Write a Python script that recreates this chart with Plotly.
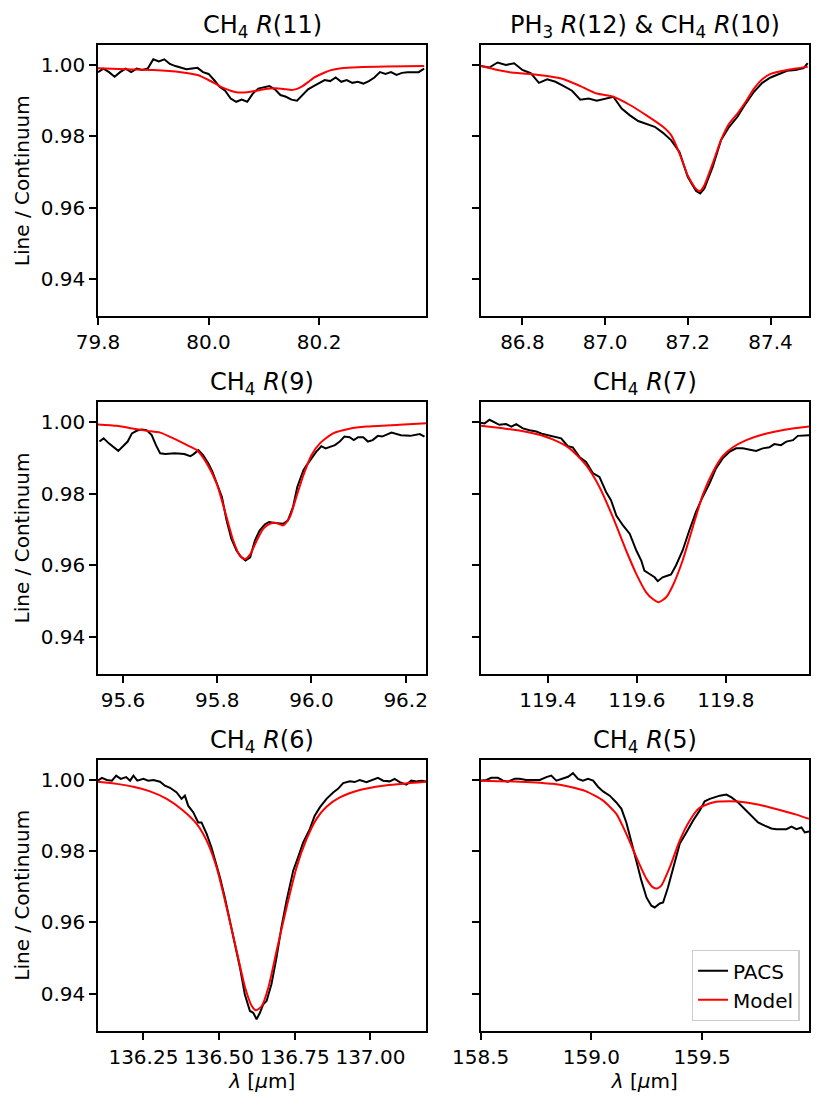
from plotly.subplots import make_subplots
import plotly.graph_objs as go

FONT = dict(family="DejaVu Sans", size=20, color="black")
TITLE_FONT = dict(family="DejaVu Sans", size=24, color="black")
PACS_LINE = dict(color="black", width=2)
MODEL_LINE = dict(color="red", width=2, shape="spline", smoothing=0.6)

TITLES = [
    "CH<sub>4</sub> <i>R</i>(11)",
    "PH<sub>3</sub> <i>R</i>(12) &amp; CH<sub>4</sub> <i>R</i>(10)",
    "CH<sub>4</sub> <i>R</i>(9)",
    "CH<sub>4</sub> <i>R</i>(7)",
    "CH<sub>4</sub> <i>R</i>(6)",
    "CH<sub>4</sub> <i>R</i>(5)",
]

# CH4 R(11)
R11_WAVE = [79.80, 79.81, 79.82, 79.83, 79.84, 79.85, 79.86, 79.87, 79.88, 79.89,
            79.90, 79.91, 79.92, 79.93, 79.94, 79.95, 79.96, 79.97, 79.98, 79.99,
            80.00, 80.01, 80.02, 80.03, 80.04, 80.05, 80.06, 80.07, 80.08, 80.09,
            80.10, 80.11, 80.12, 80.13, 80.14, 80.15, 80.16, 80.17, 80.18, 80.19,
            80.20, 80.21, 80.22, 80.23, 80.24, 80.25, 80.26, 80.27, 80.28, 80.29,
            80.30, 80.31, 80.32, 80.33, 80.34, 80.35, 80.36, 80.37, 80.38, 80.39]
R11_PACS = [0.9980, 0.9990, 0.9980, 0.9967, 0.9980, 0.9990, 0.9980, 0.9990, 0.9986, 0.9990,
            1.0016, 1.0010, 1.0016, 1.0003, 0.9997, 0.9992, 0.9988, 0.9990, 0.9992, 0.9980,
            0.9975, 0.9958, 0.9939, 0.9928, 0.9906, 0.9897, 0.9903, 0.9897, 0.9920, 0.9934,
            0.9937, 0.9941, 0.9932, 0.9916, 0.9911, 0.9903, 0.9900, 0.9916, 0.9932, 0.9941,
            0.9950, 0.9958, 0.9955, 0.9965, 0.9953, 0.9958, 0.9950, 0.9953, 0.9948, 0.9955,
            0.9965, 0.9980, 0.9975, 0.9980, 0.9972, 0.9978, 0.9980, 0.9980, 0.9980, 0.9990]
R11_MODEL_WAVE = [79.80, 79.85, 79.90, 79.95, 79.98, 80.00, 80.02, 80.03, 80.04, 80.05,
                  80.07, 80.09, 80.10, 80.12, 80.14, 80.15, 80.16, 80.17, 80.18, 80.19,
                  80.20, 80.21, 80.22, 80.24, 80.27, 80.32, 80.39]
R11_MODEL = [0.9991, 0.9988, 0.9986, 0.9980, 0.9972, 0.9958, 0.9941, 0.9934, 0.9928, 0.9924,
             0.9924, 0.9929, 0.9932, 0.9935, 0.9932, 0.9930, 0.9933, 0.9941, 0.9952, 0.9964,
             0.9972, 0.9979, 0.9985, 0.9991, 0.9994, 0.9996, 0.9997]

# PH3 R(12) & CH4 R(10)
R10_WAVE = [86.70, 86.72, 86.74, 86.76, 86.78, 86.80, 86.82, 86.84, 86.86, 86.88,
            86.90, 86.92, 86.94, 86.96, 86.98, 87.00, 87.02, 87.04, 87.06, 87.08,
            87.10, 87.12, 87.14, 87.16, 87.18, 87.20, 87.22, 87.23, 87.24, 87.26,
            87.28, 87.30, 87.32, 87.34, 87.36, 87.38, 87.40, 87.42, 87.44, 87.46,
            87.48, 87.49]
R10_PACS = [0.9997, 0.9993, 1.0007, 1.0000, 1.0005, 0.9986, 0.9977, 0.9950, 0.9960, 0.9953,
            0.9941, 0.9928, 0.9903, 0.9906, 0.9900, 0.9906, 0.9911, 0.9878, 0.9859, 0.9843,
            0.9834, 0.9827, 0.9810, 0.9789, 0.9756, 0.9686, 0.9647, 0.9640, 0.9654, 0.9714,
            0.9789, 0.9827, 0.9855, 0.9892, 0.9925, 0.9950, 0.9965, 0.9975, 0.9984, 0.9986,
            0.9991, 1.0005]
R10_MODEL_WAVE = [86.700, 86.740, 86.780, 86.820, 86.860, 86.900, 86.940, 86.980, 87.020, 87.060,
                  87.100, 87.140, 87.160, 87.180, 87.200, 87.220, 87.230, 87.240, 87.260, 87.280,
                  87.300, 87.320, 87.340, 87.360, 87.380, 87.400, 87.440, 87.490]
R10_MODEL = [0.9997, 0.9986, 0.9978, 0.9975, 0.9969, 0.9960, 0.9941, 0.9920, 0.9911, 0.9888,
             0.9859, 0.9827, 0.9803, 0.9752, 0.9690, 0.9653, 0.9647, 0.9663, 0.9724, 0.9789,
             0.9836, 0.9864, 0.9897, 0.9934, 0.9960, 0.9975, 0.9986, 0.9995]

# CH4 R(9)
R9_WAVE = [95.550, 95.559, 95.570, 95.590, 95.610, 95.619, 95.630, 95.640, 95.650, 95.661,
           95.670, 95.679, 95.690, 95.710, 95.730, 95.743, 95.750, 95.760, 95.770, 95.781,
           95.790, 95.799, 95.810, 95.820, 95.830, 95.841, 95.850, 95.860, 95.870, 95.880,
           95.890, 95.901, 95.910, 95.923, 95.930, 95.940, 95.950, 95.961, 95.970, 95.983,
           95.990, 96.000, 96.010, 96.021, 96.030, 96.050, 96.060, 96.070, 96.081, 96.090,
           96.099, 96.110, 96.120, 96.130, 96.141, 96.150, 96.170, 96.190, 96.210, 96.230,
           96.240]
R9_PACS = [0.9946, 0.9955, 0.9941, 0.9920, 0.9946, 0.9969, 0.9977, 0.9980, 0.9978, 0.9964,
           0.9936, 0.9913, 0.9911, 0.9913, 0.9911, 0.9905, 0.9911, 0.9922, 0.9908, 0.9885,
           0.9861, 0.9828, 0.9791, 0.9725, 0.9674, 0.9641, 0.9624, 0.9613, 0.9622, 0.9669,
           0.9697, 0.9714, 0.9721, 0.9718, 0.9718, 0.9716, 0.9725, 0.9763, 0.9819, 0.9866,
           0.9880, 0.9899, 0.9917, 0.9933, 0.9927, 0.9936, 0.9946, 0.9960, 0.9958, 0.9950,
           0.9958, 0.9958, 0.9946, 0.9950, 0.9962, 0.9960, 0.9971, 0.9964, 0.9962, 0.9967,
           0.9960]
R9_MODEL_WAVE = [95.547, 95.587, 95.623, 95.651, 95.679, 95.707, 95.736, 95.757, 95.778, 95.799,
                 95.820, 95.834, 95.848, 95.859, 95.870, 95.884, 95.898, 95.912, 95.926, 95.940,
                 95.954, 95.968, 95.983, 96.000, 96.018, 96.046, 96.081, 96.117, 96.187, 96.244]
R9_MODEL = [0.9994, 0.9990, 0.9982, 0.9976, 0.9971, 0.9955, 0.9936, 0.9922, 0.9885, 0.9828,
            0.9734, 0.9669, 0.9627, 0.9617, 0.9630, 0.9669, 0.9702, 0.9716, 0.9718, 0.9711,
            0.9734, 0.9791, 0.9852, 0.9908, 0.9941, 0.9969, 0.9982, 0.9988, 0.9993, 0.9997]

# CH4 R(7)
R7_WAVE = [119.249, 119.258, 119.269, 119.280, 119.291, 119.306, 119.318, 119.329, 119.344, 119.359,
           119.374, 119.389, 119.404, 119.419, 119.430, 119.445, 119.456, 119.471, 119.486, 119.501,
           119.516, 119.531, 119.542, 119.554, 119.569, 119.584, 119.599, 119.610, 119.617, 119.628,
           119.640, 119.647, 119.658, 119.670, 119.677, 119.688, 119.703, 119.718, 119.733, 119.748,
           119.763, 119.778, 119.793, 119.808, 119.823, 119.838, 119.853, 119.868, 119.883, 119.898,
           119.909, 119.924, 119.936, 119.951, 119.962, 119.973, 119.987]
R7_PACS = [0.9999, 0.9997, 1.0007, 0.9999, 0.9993, 0.9995, 0.9988, 0.9995, 0.9983, 0.9978,
           0.9974, 0.9967, 0.9962, 0.9958, 0.9955, 0.9933, 0.9930, 0.9903, 0.9889, 0.9858,
           0.9847, 0.9805, 0.9782, 0.9739, 0.9711, 0.9688, 0.9641, 0.9613, 0.9585, 0.9576,
           0.9566, 0.9555, 0.9566, 0.9571, 0.9574, 0.9599, 0.9641, 0.9697, 0.9749, 0.9791,
           0.9828, 0.9871, 0.9899, 0.9917, 0.9927, 0.9927, 0.9924, 0.9920, 0.9927, 0.9930,
           0.9939, 0.9936, 0.9946, 0.9950, 0.9962, 0.9962, 0.9964]
R7_MODEL_WAVE = [119.249, 119.299, 119.336, 119.374, 119.411, 119.449, 119.486, 119.516, 119.546, 119.576,
                 119.599, 119.621, 119.636, 119.649, 119.666, 119.681, 119.703, 119.726, 119.748, 119.771,
                 119.793, 119.816, 119.846, 119.883, 119.936, 119.987]
R7_MODEL = [0.9990, 0.9983, 0.9977, 0.9967, 0.9952, 0.9927, 0.9880, 0.9819, 0.9735, 0.9641,
            0.9575, 0.9524, 0.9505, 0.9496, 0.9510, 0.9543, 0.9613, 0.9707, 0.9796, 0.9861,
            0.9905, 0.9930, 0.9950, 0.9966, 0.9980, 0.9988]

# CH4 R(6)
R6_WAVE = [136.099, 136.113, 136.129, 136.146, 136.160, 136.175, 136.193, 136.206, 136.217, 136.230,
           136.250, 136.266, 136.283, 136.305, 136.321, 136.338, 136.360, 136.376, 136.387, 136.398,
           136.415, 136.431, 136.442, 136.459, 136.475, 136.492, 136.503, 136.519, 136.536, 136.552,
           136.569, 136.585, 136.602, 136.613, 136.624, 136.635, 136.646, 136.657, 136.673, 136.690,
           136.706, 136.723, 136.745, 136.761, 136.778, 136.800, 136.816, 136.833, 136.855, 136.877,
           136.893, 136.910, 136.932, 136.948, 136.965, 136.987, 137.009, 137.025, 137.042, 137.064,
           137.080, 137.097, 137.119, 137.135, 137.152, 137.168, 137.185]
R6_PACS = [0.9997, 1.0005, 0.9999, 0.9997, 1.0011, 1.0002, 1.0007, 0.9997, 1.0011, 0.9997,
           1.0002, 0.9997, 0.9999, 0.9994, 0.9983, 0.9977, 0.9964, 0.9946, 0.9955, 0.9927,
           0.9908, 0.9880, 0.9880, 0.9848, 0.9810, 0.9763, 0.9726, 0.9670, 0.9604, 0.9539,
           0.9474, 0.9399, 0.9352, 0.9347, 0.9329, 0.9347, 0.9371, 0.9380, 0.9427, 0.9502,
           0.9586, 0.9661, 0.9745, 0.9782, 0.9824, 0.9862, 0.9899, 0.9922, 0.9946, 0.9964,
           0.9974, 0.9990, 0.9995, 0.9993, 0.9999, 0.9993, 0.9999, 1.0005, 0.9997, 0.9995,
           1.0002, 0.9993, 0.9986, 0.9997, 0.9995, 0.9997, 0.9995]
R6_MODEL_WAVE = [136.099, 136.162, 136.217, 136.272, 136.327, 136.382, 136.426, 136.459, 136.492, 136.525,
                 136.558, 136.586, 136.608, 136.622, 136.641, 136.663, 136.690, 136.723, 136.756, 136.789,
                 136.822, 136.855, 136.899, 136.965, 137.042, 137.185]
R6_MODEL = [0.9994, 0.9988, 0.9980, 0.9967, 0.9946, 0.9913, 0.9876, 0.9829, 0.9754, 0.9642,
            0.9520, 0.9418, 0.9366, 0.9354, 0.9366, 0.9418, 0.9520, 0.9642, 0.9754, 0.9833,
            0.9890, 0.9924, 0.9950, 0.9971, 0.9983, 0.9994]

# CH4 R(5)
R5_WAVE = [158.500, 158.526, 158.548, 158.578, 158.601, 158.623, 158.654, 158.676, 158.706, 158.736,
           158.767, 158.797, 158.819, 158.842, 158.872, 158.895, 158.917, 158.940, 158.962, 158.985,
           159.008, 159.030, 159.053, 159.083, 159.113, 159.136, 159.158, 159.181, 159.203, 159.226,
           159.249, 159.271, 159.286, 159.309, 159.324, 159.346, 159.369, 159.399, 159.429, 159.459,
           159.489, 159.512, 159.535, 159.557, 159.580, 159.610, 159.633, 159.663, 159.693, 159.723,
           159.753, 159.783, 159.813, 159.836, 159.858, 159.881, 159.904, 159.926, 159.949, 159.964,
           159.983]
R5_PACS = [0.9997, 0.9999, 1.0005, 1.0005, 0.9997, 0.9994, 1.0002, 1.0002, 0.9999, 1.0000,
           0.9999, 1.0007, 1.0011, 0.9997, 1.0002, 1.0008, 1.0018, 1.0002, 0.9997, 1.0002,
           0.9997, 0.9980, 0.9967, 0.9955, 0.9936, 0.9918, 0.9880, 0.9829, 0.9773, 0.9717,
           0.9670, 0.9647, 0.9642, 0.9653, 0.9656, 0.9698, 0.9754, 0.9820, 0.9852, 0.9885,
           0.9913, 0.9939, 0.9946, 0.9950, 0.9955, 0.9958, 0.9950, 0.9936, 0.9918, 0.9899,
           0.9880, 0.9871, 0.9863, 0.9861, 0.9861, 0.9861, 0.9868, 0.9861, 0.9866, 0.9852,
           0.9855]
R5_MODEL_WAVE = [158.500, 158.676, 158.827, 158.902, 158.977, 159.053, 159.113, 159.158, 159.203, 159.249,
                 159.279, 159.297, 159.316, 159.354, 159.399, 159.444, 159.489, 159.550, 159.625, 159.700,
                 159.776, 159.851, 159.926, 159.983]
R5_MODEL = [0.9997, 0.9994, 0.9988, 0.9980, 0.9967, 0.9941, 0.9904, 0.9848, 0.9783, 0.9722,
            0.9698, 0.9695, 0.9703, 0.9754, 0.9829, 0.9885, 0.9921, 0.9936, 0.9939, 0.9936,
            0.9927, 0.9915, 0.9902, 0.9890]

PANELS = [
    (R11_WAVE, R11_PACS, R11_MODEL_WAVE, R11_MODEL),
    (R10_WAVE, R10_PACS, R10_MODEL_WAVE, R10_MODEL),
    (R9_WAVE, R9_PACS, R9_MODEL_WAVE, R9_MODEL),
    (R7_WAVE, R7_PACS, R7_MODEL_WAVE, R7_MODEL),
    (R6_WAVE, R6_PACS, R6_MODEL_WAVE, R6_MODEL),
    (R5_WAVE, R5_PACS, R5_MODEL_WAVE, R5_MODEL),
]
X_RANGES = [[79.8, 80.394], [86.699, 87.493], [95.547, 96.244],
            [119.249, 119.987], [136.10, 137.185], [158.5, 159.983]]
X_TICKS = [(79.8, 0.2, ".1f"), (86.8, 0.2, ".1f"), (95.6, 0.2, ".1f"),
           (119.4, 0.2, ".1f"), (136.25, 0.25, ".2f"), (158.5, 0.5, ".1f")]
Y_RANGE = [0.9296, 1.0056]
Y_TICKS = [0.94, 0.96, 0.98, 1.00]

fig = make_subplots(rows=3, cols=2, horizontal_spacing=0.0763, vertical_spacing=0.0871,
                    subplot_titles=TITLES)

for i, (wave, pacs, mwave, model) in enumerate(PANELS):
    row, col = i // 2 + 1, i % 2 + 1
    fig.add_trace(go.Scatter(x=wave, y=pacs, mode="lines", name="PACS", line=PACS_LINE,
                             showlegend=(i == 5)), row=row, col=col)
    fig.add_trace(go.Scatter(x=mwave, y=model, mode="lines", name="Model", line=MODEL_LINE,
                             showlegend=(i == 5)), row=row, col=col)
    tick0, dtick, fmt = X_TICKS[i]
    fig.update_xaxes(range=X_RANGES[i], tick0=tick0, dtick=dtick, tickformat=fmt, row=row, col=col)
    fig.update_yaxes(range=Y_RANGE, tickvals=Y_TICKS, tickformat=".2f",
                     showticklabels=(col == 1), row=row, col=col)
    if col == 1:
        fig.update_yaxes(title_text="Line / Continuum", title_standoff=6, row=row, col=col)
    if row == 3:
        fig.update_xaxes(title_text="<i>λ</i> [<i>μ</i>m]", title_standoff=4, row=row, col=col)

AXIS_STYLE = dict(showline=True, linecolor="black", linewidth=1.6, mirror=True,
                  ticks="outside", ticklen=7, tickwidth=1.6, tickcolor="black",
                  showgrid=False, zeroline=False, automargin=False,
                  tickfont=FONT, title_font=FONT)
fig.update_xaxes(**AXIS_STYLE)
fig.update_yaxes(**AXIS_STYLE)

for ann in fig.layout.annotations:
    ann.font = TITLE_FONT
    ann.yshift = 1

# page body keeps its default 8px margin, so the figure is 8px smaller
fig.update_layout(
    width=823, height=1099,
    margin=dict(l=90, r=22, t=37, b=76, autoexpand=False),
    paper_bgcolor="white", plot_bgcolor="white",
    font=FONT,
    legend=dict(x=0.987, y=0.0101, xanchor="right", yanchor="bottom",
                bordercolor="#cccccc", borderwidth=1.3, bgcolor="white",
                font=FONT, tracegroupgap=0),
)

fig.write_html("out.html")
